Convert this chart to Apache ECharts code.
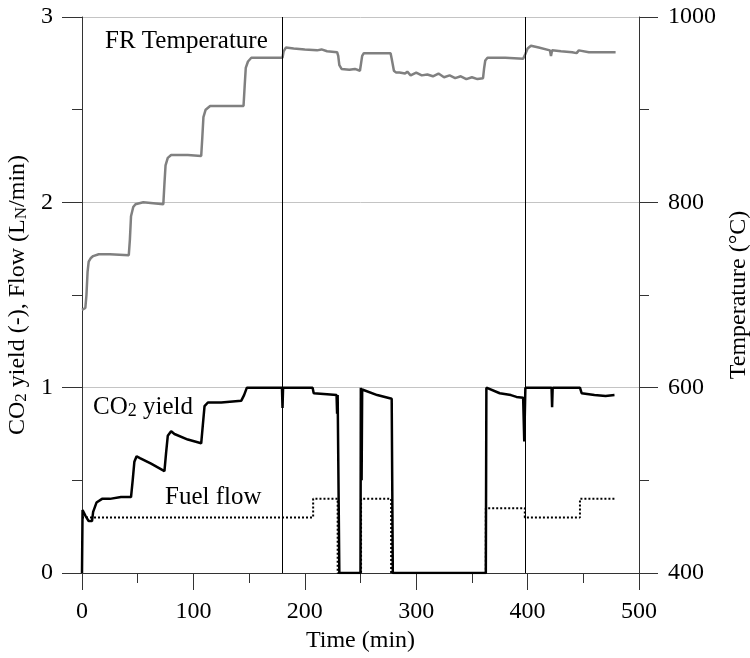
<!DOCTYPE html>
<html>
<head>
<meta charset="utf-8">
<script src="https://cdn.jsdelivr.net/npm/echarts@6/dist/echarts.min.js"></script>
<style>html,body{margin:0;padding:0;background:#fff;}#c{width:750px;height:658px;}</style>
</head>
<body>
<div id="c"></div>
<script>
// ---- data ----
const xTicks = [0, 100, 200, 300, 400, 500];
const leftTicks = [0, 1, 2, 3];
const rightTicks = [400, 600, 800, 1000];
const eventTimes = [180, 398];

// FR temperature (°C), right axis
const tempTime = [0, 3, 4, 5, 6, 8, 10, 15, 25, 42, 43, 44, 46, 48, 55, 73, 74, 75, 77, 80, 95, 107, 108, 109, 111, 115, 130, 145, 146, 147, 149, 152, 165, 180,
  181, 183, 190, 200, 211, 215, 220, 229, 230, 231, 233, 240, 245, 249.5, 250.5, 251.5, 253, 265, 277, 278, 280, 282, 285, 290, 292, 295, 300, 305, 310, 315, 320, 325, 330, 335, 340, 345, 350, 355, 360,
  361, 362, 364, 380, 396, 398, 400, 403, 410, 420, 421, 422, 430, 440, 444, 446, 455, 465, 479];
const tempValue = [684, 686, 700, 725, 736, 740, 742, 744, 744, 743, 760, 785, 795, 798, 800, 798, 820, 840, 848, 851, 851, 850, 870, 892, 900, 904, 904, 904, 925, 945, 952, 956, 956, 956,
  963, 967, 966, 965, 964, 965, 963, 962, 958, 948, 944, 943, 944, 942, 950, 958, 961, 961, 961, 955, 942, 940, 940, 939, 941, 937, 940, 937, 938, 936, 939, 935, 937, 934, 936, 933, 935, 933, 934,
  945, 953, 956, 956, 955, 960, 966, 969, 967, 964, 958, 964, 963, 962, 961, 964, 962, 962, 962];

// CO2 yield (-), left axis
const co2Time = [0, 0.5, 1.5, 3, 6, 9, 10, 13, 18, 25, 35, 44, 45.5, 47, 49, 52, 62, 74, 75.5, 77, 80, 83, 95, 107, 108.5, 110, 113, 125, 143, 145.5, 148, 179.5, 180, 180.5,
  207, 208, 220, 228.5, 229, 229.5, 230.5, 231, 250, 250.3, 251, 251.5, 253, 265, 278, 279, 362.5, 363, 375, 385, 390, 396, 397, 398, 421.5, 422, 422.5, 447, 448.5, 460, 470, 478];
const co2Value = [0, 0.34, 0.33, 0.31, 0.28, 0.28, 0.33, 0.38, 0.40, 0.40, 0.41, 0.41, 0.50, 0.60, 0.63, 0.62, 0.59, 0.55, 0.65, 0.74, 0.765, 0.75, 0.72, 0.70, 0.80, 0.90, 0.92, 0.92, 0.93, 0.96, 1.0, 1.0, 0.89, 1.0,
  1.0, 0.97, 0.965, 0.96, 0.86, 0.96, 0.96, 0, 0, 1.0, 0.5, 0.99, 0.98, 0.96, 0.94, 0, 0, 1.0, 0.97, 0.96, 0.95, 0.945, 0.71, 1.0, 1.0, 0.895, 1.0, 1.0, 0.97, 0.96, 0.955, 0.96];

// Fuel flow (LN/min), left axis
const fuelTime = [0, 207.5, 207.5, 229.5, 229.5, 250.5, 250.5, 277.5, 277.5, 362.5, 362.5, 397.5, 397.5, 447, 447, 479];
const fuelValue = [0.30, 0.30, 0.40, 0.40, 0, 0, 0.40, 0.40, 0, 0, 0.35, 0.35, 0.30, 0.30, 0.40, 0.40];

const pairs = (t, v) => t.map((x, i) => [x, v[i]]);

const FONT = 'Liberation Serif';
const chart = echarts.init(document.getElementById('c'));
chart.setOption({
  animation: false,
  backgroundColor: '#fff',
  textStyle: { fontFamily: FONT },
  grid: { left: 82, right: 111, top: 17, bottom: 85, containLabel: false, outerBoundsMode: 'none' },
  xAxis: {
    type: 'value', min: xTicks[0], max: xTicks[xTicks.length - 1], interval: 100,
    name: 'Time (min)', nameLocation: 'middle', nameGap: 54,
    nameTextStyle: { fontFamily: FONT, fontSize: 24, color: '#000' },
    axisLine: { show: true, lineStyle: { color: '#333', width: 1 } },
    axisTick: { show: true, length: 17, lineStyle: { color: '#333' } },
    minorTick: { show: true, splitNumber: 2, length: 10, lineStyle: { color: '#333' } },
    axisLabel: { fontFamily: FONT, fontSize: 24, color: '#000', margin: 27, formatter: v => String(v) },
    splitLine: { show: false }
  },
  yAxis: [{
    type: 'value', min: leftTicks[0], max: leftTicks[leftTicks.length - 1], interval: 1, position: 'left',
    name: '{a|CO}{s|2}{a| yield (-), Flow (L}{s|N}{a|/min)}', nameLocation: 'middle', nameGap: 45, nameRotate: 90,
    nameTextStyle: { fontFamily: FONT, fontSize: 24, color: '#000',
      rich: { a: { fontFamily: FONT, fontSize: 24, color: '#000' }, s: { fontFamily: FONT, fontSize: 17, color: '#000', verticalAlign: 'bottom' } } },
    axisLine: { show: true, lineStyle: { color: '#333', width: 1 } },
    axisTick: { show: true, length: 20, lineStyle: { color: '#333' } },
    minorTick: { show: true, splitNumber: 2, length: 10, lineStyle: { color: '#333' } },
    axisLabel: { fontFamily: FONT, fontSize: 24, color: '#000', margin: 29, formatter: v => String(v) },
    splitLine: { show: true, lineStyle: { color: '#c4c4c4', width: 1 } }
  }, {
    type: 'value', min: rightTicks[0], max: rightTicks[rightTicks.length - 1], interval: 200, position: 'right',
    name: 'Temperature (°C)', nameLocation: 'middle', nameGap: 87, nameRotate: 90,
    nameTextStyle: { fontFamily: FONT, fontSize: 24, color: '#000' },
    axisLine: { show: true, lineStyle: { color: '#333', width: 1 } },
    axisTick: { show: true, length: 19, lineStyle: { color: '#333' } },
    minorTick: { show: true, splitNumber: 2, length: 10, lineStyle: { color: '#333' } },
    axisLabel: { fontFamily: FONT, fontSize: 24, color: '#000', margin: 29, formatter: v => String(v) },
    splitLine: { show: false }
  }],
  graphic: [
    { type: 'text', left: 105, top: 29, style: { text: 'FR Temperature', font: '25px "Liberation Serif"', fill: '#000' } },
    { type: 'text', left: 93, top: 395, style: { text: '{a|CO}{s|2}{a| yield}', fill: '#000',
      rich: { a: { fontFamily: FONT, fontSize: 25, fill: '#000' }, s: { fontFamily: FONT, fontSize: 18, fill: '#000', verticalAlign: 'bottom' } } } },
    { type: 'text', left: 165, top: 485, style: { text: 'Fuel flow', font: '25px "Liberation Serif"', fill: '#000' } }
  ],
  series: [
    {
      name: 'Fuel flow', type: 'line', yAxisIndex: 0, data: pairs(fuelTime, fuelValue), showSymbol: false, symbol: 'none',
      lineStyle: { color: '#000', width: 2, type: 'dotted' }, z: 2,
      markLine: { silent: true, symbol: 'none', label: { show: false },
        lineStyle: { color: '#000', width: 1, type: 'solid' },
        data: eventTimes.map(t => ({ xAxis: t })) }
    },
    {
      name: 'CO2 yield', type: 'line', yAxisIndex: 0, data: pairs(co2Time, co2Value), showSymbol: false, symbol: 'none',
      lineStyle: { color: '#000', width: 2.5 }, z: 3
    },
    {
      name: 'FR Temperature', type: 'line', yAxisIndex: 1, data: pairs(tempTime, tempValue), showSymbol: false, symbol: 'none',
      lineStyle: { color: '#808080', width: 2.5 }, z: 3
    }
  ]
});
</script>
</body>
</html>
